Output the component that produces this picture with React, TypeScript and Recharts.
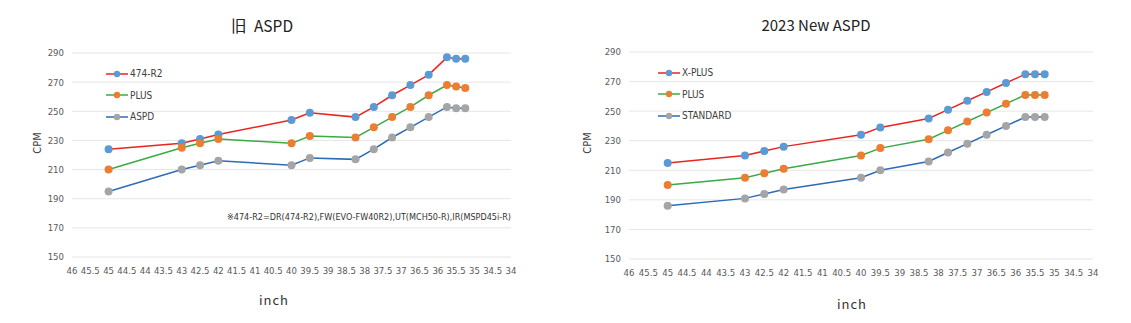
import { LineChart, Line, XAxis, YAxis, CartesianGrid } from "recharts";

// screen sizes (inch), shared by both charts
const sizes = [45, 43, 42.5, 42, 40, 39.5, 38.25, 37.75, 37.25, 36.75, 36.25, 35.75, 35.5, 35.25];

// 旧 ASPD
const oldR2 = [224, 228, 231, 234, 244, 249, 246, 253, 261, 268, 275, 287, 286, 286];
const oldPlus = [210, 225, 228, 231, 228, 233, 232, 239, 246, 253, 261, 268, 267, 266];
const oldAspd = [195, 210, 213, 216, 213, 218, 217, 224, 232, 239, 246, 253, 252, 252];

// 2023 New ASPD
const newXPlus = [215, 220, 223, 226, 234, 239, 245, 251, 257, 263, 269, 275, 275, 275];
const newPlus = [200, 205, 208, 211, 220, 225, 231, 237, 243, 249, 255, 261, 261, 261];
const newStandard = [186, 191, 194, 197, 205, 210, 216, 222, 228, 234, 240, 246, 246, 246];

const xTicks = [46, 45.5, 45, 44.5, 44, 43.5, 43, 42.5, 42, 41.5, 41, 40.5, 40, 39.5, 39, 38.5, 38, 37.5, 37, 36.5, 36, 35.5, 35, 34.5, 34];
const yTicks = [150, 170, 190, 210, 230, 250, 270, 290];

const oldNames = ["474-R2", "PLUS", "ASPD"];
const newNames = ["X-PLUS", "PLUS", "STANDARD"];

const lineColors = ["#e8251f", "#3baa45", "#2e6bb5"];
const dotColors = ["#5b9bd5", "#ed7d31", "#a5a5a5"];

const note = "※474-R2=DR(474-R2),FW(EVO-FW40R2),UT(MCH50-R),IR(MSPD45i-R)";

const narrow = '"Liberation Sans Narrow", "DejaVu Sans Condensed", sans-serif';
const tickStyle = { fontSize: 9.5, fill: "#595959", fontFamily: narrow };

const buildRows = (a: number[], b: number[], c: number[]) =>
  sizes.map((inch, i) => ({ inch, s0: a[i], s1: b[i], s2: c[i] }));

const oldRows = buildRows(oldR2, oldPlus, oldAspd);
const newRows = buildRows(newXPlus, newPlus, newStandard);

const LegendBox = ({ names, left, top }: { names: string[]; left: number; top: number }) => (
  <div style={{ position: "absolute", left, top, fontFamily: narrow, fontSize: 10, color: "#404040" }}>
    {names.map((n, i) => (
      <div key={n} style={{ display: "flex", alignItems: "center", height: 21.5 }}>
        <svg width={22} height={8} style={{ marginRight: 2 }}>
          <line x1={0} y1={4} x2={22} y2={4} stroke={lineColors[i]} strokeWidth={1.5} />
          <circle cx={11} cy={4} r={3.2} fill={dotColors[i]} />
        </svg>
        <span>{n}</span>
      </div>
    ))}
  </div>
);

interface PanelProps {
  rows: { inch: number; s0: number; s1: number; s2: number }[];
  names: string[];
  width: number;
  top: number;
  bottom: number;
  right: number;
}

const Panel = ({ rows, names, width, top, bottom, right }: PanelProps) => (
  <LineChart width={width} height={323} data={rows} margin={{ top, right, bottom, left: 0 }}>
    <CartesianGrid vertical={false} stroke="#e6e6e6" />
    <XAxis
      dataKey="inch"
      type="number"
      domain={[34, 46]}
      reversed
      ticks={xTicks}
      interval={0}
      axisLine={false}
      tickLine={false}
      tick={tickStyle}
      tickMargin={4}
      height={30}
    />
    <YAxis
      type="number"
      domain={[150, 290]}
      ticks={yTicks}
      axisLine={false}
      tickLine={false}
      tick={tickStyle}
      width={72}
    />
    {["s0", "s1", "s2"].map((k, i) => (
      <Line
        key={k}
        type="linear"
        dataKey={k}
        name={names[i]}
        stroke={lineColors[i]}
        strokeWidth={1.5}
        dot={{ r: 4, fill: dotColors[i], stroke: dotColors[i], strokeWidth: 0 }}
        isAnimationActive={false}
      />
    ))}
  </LineChart>
);

const abs = (x: number, y: number) => ({
  position: "absolute" as const,
  left: x,
  top: y,
  transform: "translate(-50%, -50%)",
  whiteSpace: "nowrap" as const,
});

export default function App() {
  return (
    <div style={{ position: "absolute", left: 0, top: 0, width: 1131, height: 323, background: "#fff" }}>
      <div style={{ position: "absolute", left: 0, top: 0 }}>
        <Panel rows={oldRows} names={oldNames} width={540} top={53} bottom={36} right={29} />
      </div>
      <div style={{ position: "absolute", left: 557, top: 0 }}>
        <Panel rows={newRows} names={newNames} width={566} top={52} bottom={34} right={30} />
      </div>

      <LegendBox names={oldNames} left={106} top={63} />
      <LegendBox names={newNames} left={658} top={62} />

      <div style={{ ...abs(262, 25), fontFamily: '"Noto Sans CJK KR", sans-serif', fontSize: 15.5, wordSpacing: 4, color: "#222" }}>旧 ASPD</div>
      <div style={{ ...abs(816, 24), fontFamily: '"Noto Sans CJK KR", sans-serif', fontSize: 15, color: "#222" }}>2023 New ASPD</div>

      <div style={{ ...abs(37, 143), transform: "translate(-50%, -50%) rotate(-90deg)", fontFamily: narrow, fontSize: 11, color: "#404040" }}>CPM</div>
      <div style={{ ...abs(587, 143), transform: "translate(-50%, -50%) rotate(-90deg)", fontFamily: narrow, fontSize: 11, color: "#404040" }}>CPM</div>

      <div style={{ ...abs(274, 299), fontFamily: '"Noto Sans CJK KR", sans-serif', fontSize: 13, letterSpacing: 1, color: "#333" }}>inch</div>
      <div style={{ ...abs(852, 303), fontFamily: '"Noto Sans CJK KR", sans-serif', fontSize: 13, letterSpacing: 1, color: "#333" }}>inch</div>

      <div style={{ position: "absolute", left: 227, top: 212, fontFamily: narrow, fontSize: 9, color: "#333", whiteSpace: "nowrap" }}>{note}</div>
    </div>
  );
}
